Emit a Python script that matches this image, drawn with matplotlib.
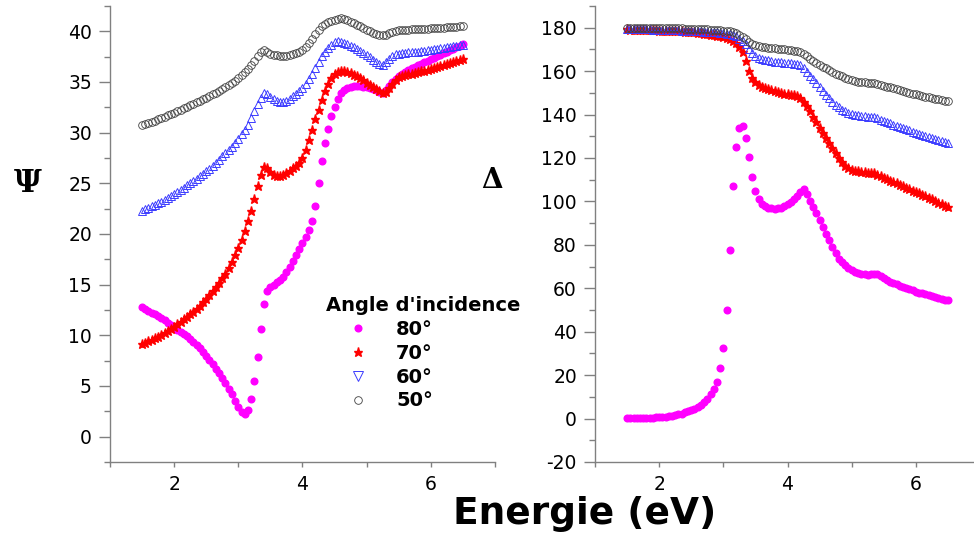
import numpy as np
import matplotlib
matplotlib.use("Agg")
import matplotlib.pyplot as plt
from matplotlib.lines import Line2D
from matplotlib.ticker import MultipleLocator

# photon energy (eV), step 0.05
energie = np.round(np.arange(1.5, 6.5001, 0.05), 2)

# Psi (deg)
psi_80 = [12.8, 12.6, 12.4, 12.25, 12.1, 11.9, 11.7, 11.5, 11.25, 11.0,
          10.75, 10.5, 10.3, 10.1, 9.9, 9.65, 9.35, 9.05, 8.75, 8.4,
          8.0, 7.6, 7.15, 6.7, 6.25, 5.8, 5.3, 4.75, 4.2, 3.55,
          2.9, 2.4, 2.2, 2.6, 3.7, 5.5, 7.9, 10.6, 13.1, 14.4,
          14.75, 15.0, 15.25, 15.5, 15.8, 16.2, 16.7, 17.3, 17.9, 18.5,
          19.1, 19.7, 20.4, 21.3, 22.8, 25.0, 27.2, 29.0, 30.4, 31.6,
          32.5, 33.3, 33.9, 34.25, 34.45, 34.55, 34.6, 34.6, 34.6, 34.55,
          34.5, 34.45, 34.35, 34.2, 34.05, 33.95, 34.2, 34.65, 35.0, 35.3,
          35.55, 35.8, 36.0, 36.2, 36.35, 36.5, 36.65, 36.8, 36.95, 37.1,
          37.25, 37.4, 37.55, 37.7, 37.85, 38.0, 38.15, 38.3, 38.45, 38.6, 38.75]
psi_70 = [9.1, 9.25, 9.4, 9.55, 9.7, 9.85, 10.0, 10.2, 10.4, 10.6,
          10.85, 11.1, 11.35, 11.6, 11.85, 12.1, 12.35, 12.6, 12.9, 13.25,
          13.6, 14.0, 14.4, 14.8, 15.2, 15.65, 16.1, 16.6, 17.2, 17.9,
          18.6, 19.4, 20.3, 21.3, 22.3, 23.5, 24.7, 25.8, 26.6, 26.5,
          26.1, 25.85, 25.7, 25.7, 25.8, 26.0, 26.25, 26.5, 26.75, 27.05,
          27.5, 28.3, 29.3, 30.3, 31.3, 32.2, 33.2, 34.1, 34.8, 35.35,
          35.75, 35.95, 36.05, 36.1, 36.0, 35.85, 35.7, 35.55, 35.35, 35.15,
          34.95, 34.7, 34.5, 34.3, 34.1, 33.95, 34.0, 34.4, 34.85, 35.2,
          35.45, 35.55, 35.65, 35.75, 35.8, 35.9, 35.95, 36.05, 36.1, 36.2,
          36.25, 36.35, 36.45, 36.55, 36.65, 36.75, 36.85, 36.95, 37.05, 37.15, 37.25]
psi_60 = [22.3, 22.45, 22.6, 22.75, 22.9, 23.05, 23.2, 23.4, 23.55, 23.75,
          23.95, 24.15, 24.35, 24.55, 24.8, 25.0, 25.25, 25.45, 25.7, 25.95,
          26.2, 26.45, 26.75, 27.05, 27.35, 27.65, 27.95, 28.25, 28.6, 29.0,
          29.4, 29.85, 30.3, 30.8, 31.4, 32.1, 32.8, 33.4, 33.9, 33.8,
          33.55, 33.3, 33.1, 33.0, 33.0, 33.1, 33.3, 33.6, 33.85, 34.1,
          34.45, 34.85, 35.3, 35.8, 36.4, 37.0, 37.55, 38.0, 38.4, 38.7,
          38.9, 39.0, 38.95, 38.85, 38.75, 38.6, 38.45, 38.3, 38.1, 37.9,
          37.7, 37.45, 37.2, 36.95, 36.75, 36.7, 36.95, 37.3, 37.6, 37.75,
          37.8, 37.85, 37.9, 37.95, 37.95, 38.0, 38.0, 38.05, 38.1, 38.15,
          38.2, 38.25, 38.3, 38.35, 38.4, 38.45, 38.5, 38.55, 38.6, 38.65, 38.7]
psi_50 = [30.8, 30.9, 31.0, 31.1, 31.2, 31.3, 31.45, 31.55, 31.7, 31.8,
          31.95, 32.1, 32.25, 32.4, 32.55, 32.7, 32.85, 33.0, 33.15, 33.3,
          33.45, 33.6, 33.8, 33.95, 34.15, 34.35, 34.5, 34.7, 34.9, 35.1,
          35.4, 35.7, 36.0, 36.3, 36.7, 37.1, 37.6, 38.0, 38.2, 38.0,
          37.8, 37.7, 37.65, 37.6, 37.6, 37.6, 37.65, 37.75, 37.85, 38.0,
          38.2, 38.5, 38.85, 39.25, 39.7, 40.15, 40.5, 40.75, 40.9, 41.05,
          41.15, 41.25, 41.3, 41.2, 41.1, 40.95, 40.8, 40.65, 40.5, 40.3,
          40.15, 40.0, 39.85, 39.75, 39.65, 39.6, 39.65, 39.8, 39.95, 40.05,
          40.1, 40.1, 40.15, 40.15, 40.2, 40.2, 40.2, 40.25, 40.25, 40.25,
          40.3, 40.3, 40.3, 40.35, 40.35, 40.4, 40.4, 40.45, 40.45, 40.5, 40.5]

# Delta (deg)
delta_80 = [0.1, 0.1, 0.15, 0.2, 0.25, 0.3, 0.35, 0.4, 0.45, 0.5,
            0.6, 0.7, 0.85, 1.0, 1.2, 1.5, 1.9, 2.3, 2.8, 3.3,
            3.9, 4.5, 5.2, 6.2, 7.5, 9.2, 11.1, 13.7, 16.8, 23.2,
            32.5, 49.8, 77.5, 107.1, 125.2, 133.7, 134.8, 129.1, 120.6, 111.4,
            104.9, 101.1, 99.0, 97.8, 97.1, 96.8, 96.7, 96.8, 97.2, 97.8,
            98.6, 99.7, 101.0, 102.6, 104.4, 105.8, 103.5, 100.3, 97.5, 94.5,
            91.4, 88.3, 85.2, 82.1, 79.0, 76.1, 73.7, 71.9, 70.6, 69.5,
            68.5, 67.7, 67.1, 66.7, 66.4, 66.3, 66.4, 66.7, 66.5, 65.6,
            64.6, 63.7, 63.0, 62.4, 61.8, 61.2, 60.6, 60.0, 59.5, 59.0,
            58.5, 58.0, 57.6, 57.2, 56.8, 56.4, 56.0, 55.6, 55.2, 54.8, 54.5]
delta_70 = [179.2, 179.15, 179.1, 179.05, 179.0, 178.95, 178.9, 178.85, 178.8, 178.75,
            178.7, 178.65, 178.6, 178.55, 178.5, 178.45, 178.4, 178.3, 178.2, 178.1,
            178.0, 177.85, 177.7, 177.5, 177.3, 177.1, 176.85, 176.6, 176.3, 176.0,
            175.6, 175.2, 174.7, 173.9, 172.8, 171.2, 168.6, 164.6, 160.2, 157.0,
            155.0, 153.7, 152.8, 152.2, 151.7, 151.2, 150.8, 150.4, 150.0, 149.7,
            149.4, 149.2, 148.9, 148.5, 147.6, 145.9, 144.0, 141.6, 139.0, 136.4,
            133.9, 131.4, 129.1, 126.9, 124.8, 122.5, 120.2, 118.0, 116.4, 115.3,
            114.6, 114.2, 113.9, 113.7, 113.5, 113.3, 113.2, 112.9, 112.3, 111.5,
            110.8, 110.2, 109.6, 108.9, 108.3, 107.6, 107.0, 106.3, 105.7, 105.0,
            104.4, 103.7, 103.0, 102.3, 101.6, 100.9, 100.2, 99.5, 98.8, 98.1, 97.4]
delta_60 = [179.4, 179.4, 179.35, 179.3, 179.3, 179.25, 179.2, 179.2, 179.15, 179.1,
            179.05, 179.0, 178.95, 178.9, 178.85, 178.8, 178.75, 178.7, 178.65, 178.6,
            178.5, 178.45, 178.4, 178.3, 178.2, 178.1, 178.0, 177.9, 177.8, 177.65,
            177.5, 177.3, 177.0, 176.6, 176.0, 175.0, 173.8, 172.4, 170.2, 168.2,
            167.0, 166.2, 165.7, 165.3, 165.0, 164.6, 164.4, 164.2, 164.0, 163.9,
            163.8, 163.6, 163.4, 163.1, 162.6, 161.4, 159.6, 157.9, 156.2, 154.5,
            152.7, 150.9, 149.1, 147.5, 146.0, 144.6, 143.3, 142.3, 141.5, 140.8,
            140.3, 139.9, 139.6, 139.4, 139.2, 139.0, 138.9, 138.7, 138.3, 137.7,
            137.1, 136.5, 135.9, 135.3, 134.8, 134.3, 133.8, 133.2, 132.7, 132.2,
            131.7, 131.2, 130.7, 130.2, 129.7, 129.2, 128.7, 128.2, 127.7, 127.2, 126.8]
delta_50 = [180.0, 180.0, 180.0, 180.0, 179.95, 179.95, 179.9, 179.9, 179.9, 179.85,
            179.85, 179.8, 179.8, 179.8, 179.75, 179.7, 179.7, 179.65, 179.6, 179.55,
            179.5, 179.45, 179.4, 179.35, 179.3, 179.2, 179.1, 179.0, 178.9, 178.8,
            178.7, 178.5, 178.3, 178.0, 177.5, 176.8, 175.8, 174.6, 173.4, 172.5,
            171.9, 171.5, 171.2, 171.0, 170.8, 170.6, 170.5, 170.3, 170.2, 170.0,
            169.9, 169.7, 169.5, 169.2, 168.8, 168.0, 166.9, 165.8, 164.8, 163.8,
            162.9, 162.1, 161.3, 160.5, 159.7, 158.9, 158.3, 157.6, 156.9, 156.3,
            155.8, 155.4, 155.1, 154.9, 154.8, 154.7, 154.7, 154.6, 154.3, 153.8,
            153.3, 152.9, 152.5, 152.1, 151.7, 151.3, 150.9, 150.5, 150.1, 149.7,
            149.4, 149.0, 148.6, 148.3, 147.9, 147.6, 147.3, 147.0, 146.7, 146.4, 146.1]

angles = ["80°", "70°", "60°", "50°"]

plt.rcParams['font.family'] = 'DejaVu Sans'
plt.rcParams['axes.unicode_minus'] = False

fig = plt.figure(figsize=(9.74, 5.36), dpi=100)
ax1 = fig.add_axes([0.1129, 0.1381, 0.3953, 0.8507])
ax2 = fig.add_axes([0.6109, 0.1381, 0.3953, 0.8507])

styles = [
    dict(marker='o', ls='none', ms=4.8, color='#ff00ff', mec='#ff00ff'),
    dict(marker='*', ls='none', ms=6.5, color='#ff0000', mec='#ff0000'),
    dict(marker='^', ls='none', ms=6.0, mfc='none', mec='#3c3cff', mew=0.7),
    dict(marker='o', ls='none', ms=5.5, mfc='none', mec='#404040', mew=0.6),
]

for s, y in zip(styles, [psi_80, psi_70, psi_60, psi_50]):
    ax1.plot(energie, y, **s)
for s, y in zip(styles, [delta_80, delta_70, delta_60, delta_50]):
    ax2.plot(energie, y, **s)

ax1.set_xlim(1, 7)
ax1.set_ylim(-2.5, 42.5)
ax1.yaxis.set_major_locator(MultipleLocator(5))
ax1.yaxis.set_minor_locator(MultipleLocator(2.5))

ax2.set_xlim(1, 7)
ax2.set_ylim(-20, 190)
ax2.yaxis.set_major_locator(MultipleLocator(20))
ax2.yaxis.set_minor_locator(MultipleLocator(10))

for ax in (ax1, ax2):
    ax.set_xticks([2, 4, 6])
    ax.xaxis.set_minor_locator(MultipleLocator(1))
    for side in ('top', 'right'):
        ax.spines[side].set_visible(False)
    for side in ('left', 'bottom'):
        ax.spines[side].set_color('#808080')
        ax.spines[side].set_linewidth(1.0)
    ax.tick_params(axis='y', which='major', length=8, width=1, color='#808080',
                   labelsize=13.5, pad=5, direction='out')
    ax.tick_params(axis='y', which='minor', length=4, width=1, color='#808080',
                   direction='out')
    ax.tick_params(axis='x', which='both', length=3.5, width=1, color='#808080',
                   labelsize=13.5, pad=6, direction='out')

fig.text(0.029, 0.657, "Ψ", fontsize=22, fontweight='bold', family='DejaVu Serif',
         ha='center', va='center')
fig.text(0.505, 0.664, "Δ", fontsize=20, fontweight='bold', family='DejaVu Serif',
         ha='center', va='center')
fig.text(0.600, 0.022, "Energie (eV)", fontsize=27, fontweight='bold',
         ha='center', va='baseline')

handles = [
    Line2D([], [], **styles[0]),
    Line2D([], [], **styles[1]),
    Line2D([], [], marker='v', ls='none', ms=6.5, mfc='none', mec='#3c3cff', mew=0.7),
    Line2D([], [], **styles[3]),
]
leg = ax1.legend(handles, angles, title="Angle d'incidence", frameon=False,
                 loc='upper left', bbox_to_anchor=(326 / 974, 1 - 296 / 536),
                 bbox_transform=fig.transFigure, alignment='left',
                 prop={'weight': 'bold', 'size': 14}, handlelength=3.3,
                 handletextpad=0.3, labelspacing=0.25, borderpad=0,
                 borderaxespad=0)
leg.get_title().set_fontweight('bold')
leg.get_title().set_fontsize(14)

fig.savefig("out.png", dpi=100)
